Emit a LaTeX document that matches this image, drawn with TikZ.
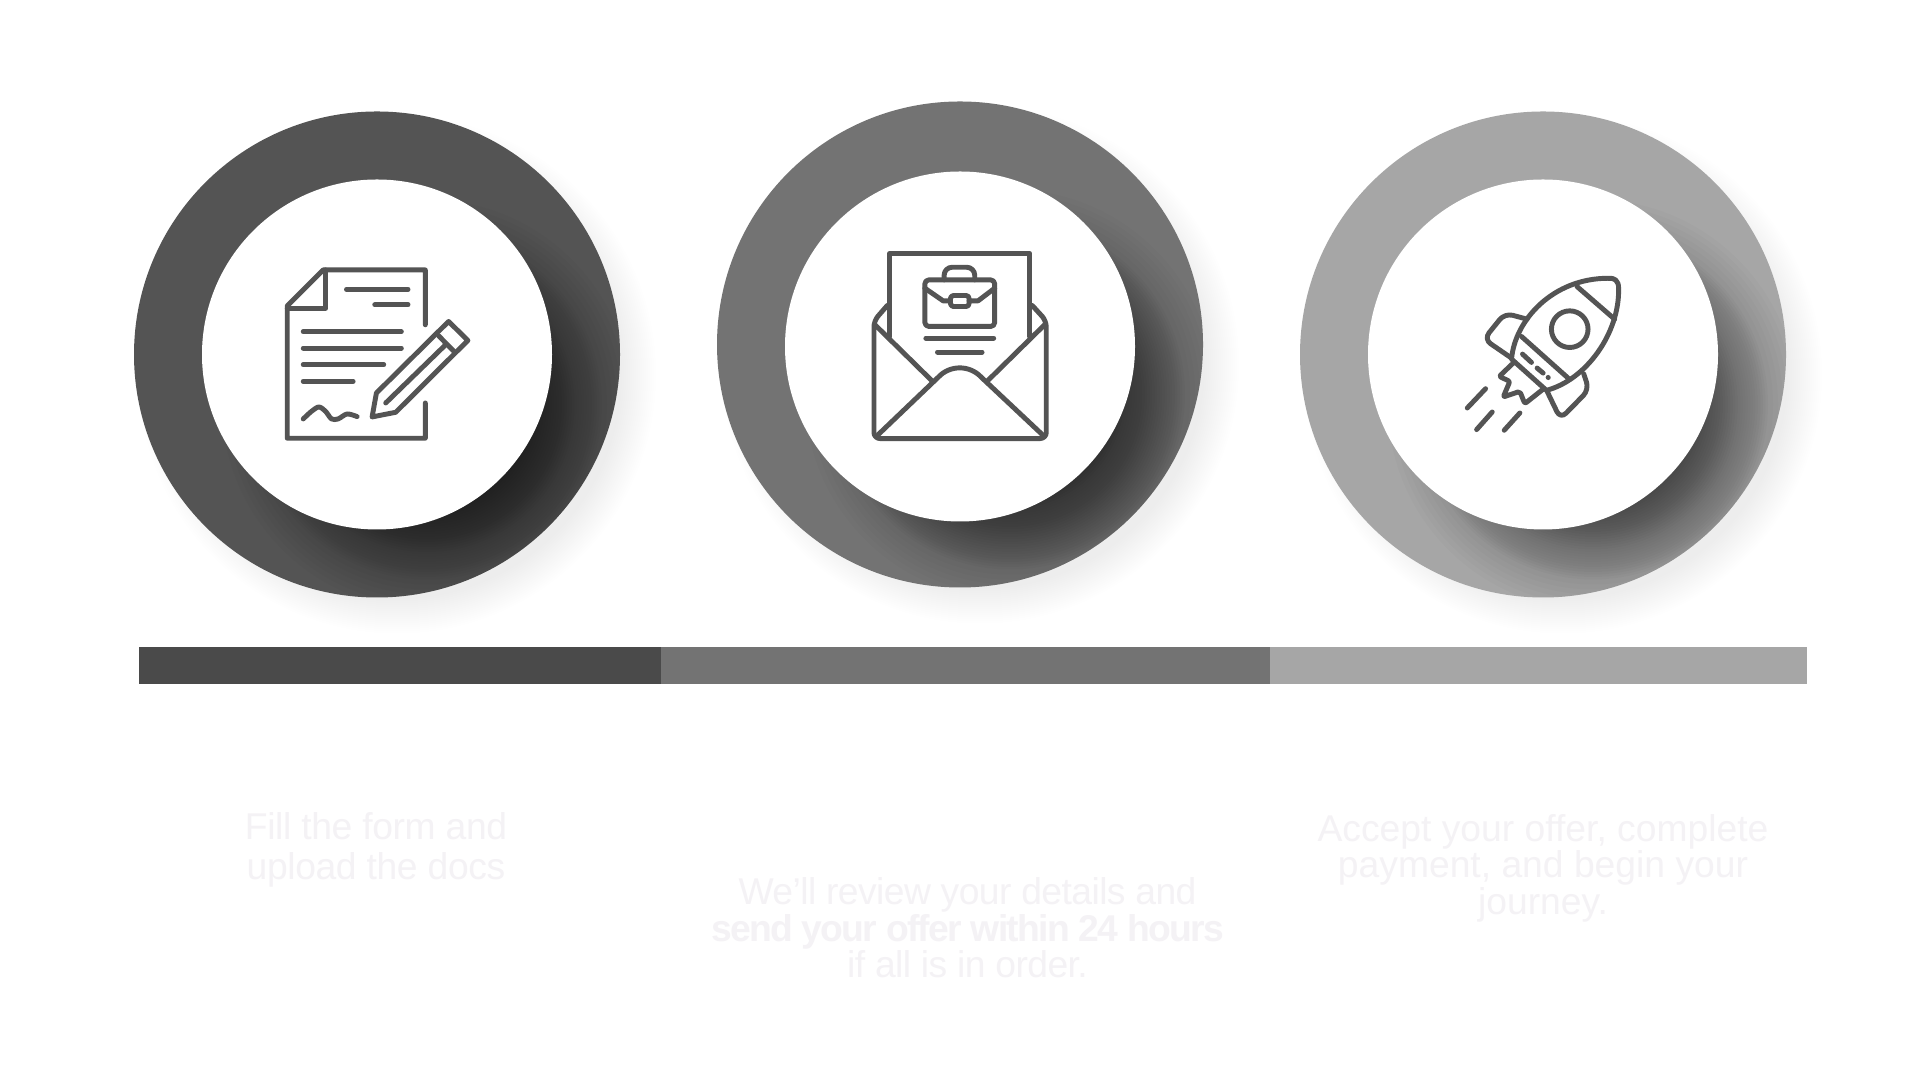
\documentclass[tikz,border=0pt]{standalone}
\usepackage{fontspec}
\setmainfont{Liberation Sans}
\usetikzlibrary{calc}

\tikzset{
    iconline/.style={draw=iconcolor,line width=1.4pt,line cap=round,line join=round},
    zoomgrid/.style={x=0.0033333cm,y=-0.0033333cm},
    captext/.style={text=captioncolor,inner sep=0pt,align=center,font=\fontsize{10.6}{10.35}\selectfont}
}

\begin{document}
\begin{tikzpicture}
    % Colores
    \colorlet{iconcolor}{black!67}
    \definecolor{captioncolor}{HTML}{F4F2F5}

    % Fondo
    \useasboundingbox (0,0) rectangle (19.2,10.8);
    \fill[white] (0,0) rectangle (19.2,10.8);

    % Anillos con sus sombras
    \foreach \cx/\cy/\holey/\ringgray in {3.77/7.255/0/33,9.60/7.355/-0.02/45,15.43/7.255/0/65}
    {
        \begin{scope}[shift={(\cx,\cy)}]
            \foreach \r in {2.25,2.27,...,2.6}
                \fill[black,opacity=0.005] (0.2,-0.2) circle (\r);
            \fill[black!\the\numexpr100-\ringgray\relax] (0,0) circle (2.43);
            \begin{scope}
                \clip (0,0) circle (2.43);
                \foreach \r in {1.05,1.075,...,1.75}
                    \fill[black,opacity=0.021] (0.5,-0.5) circle (\r);
                \foreach \r in {1.8,1.85,...,2.1}
                    \fill[black,opacity=0.016] (0.5,-0.5) circle (\r);
            \end{scope}
            \fill[white] (0,\holey) circle (1.75);
        \end{scope}
    }

    % Barra
    \fill[black!71] (1.39,4.33) rectangle (6.61,3.955);
    \fill[black!55] (6.61,4.33) rectangle (12.70,3.955);
    \fill[black!35] (12.70,4.33) rectangle (18.07,3.955);

    % Documento
    \begin{scope}[shift={(2.6,8.4)},zoomgrid]
        \draw[iconline] (497,255) -- (497,90) -- (190,90) -- (82,198) -- (82,596) -- (497,596) -- (497,490);
        \draw[iconline] (197,90) -- (197,205) -- (82,205);
        \foreach \xa/\xb/\yy in {260/445/148,345/445/195,130/425/276,130/425/325,130/372/375,130/280/425}
            \draw[iconline] (\xa,\yy) -- (\xb,\yy);
        \draw[iconline] plot[smooth] coordinates {(130,538) (155,515) (177,502) (197,515) (215,538) (235,538) (262,523) (292,531)};
        \draw[iconline] (337,532) -- (350,460) -- (567,245) -- (625,302) -- (408,518) -- cycle;
        \draw[iconline] (537,288) -- (585,337);
        \draw[iconline] (378,490) -- (555,318);
    \end{scope}

    % Sobre
    \begin{scope}[shift={(8.5,8.45)},zoomgrid]
        \draw[iconline] (120,305) -- (120,55) -- (540,55) -- (540,305);
        \draw[iconline,rounded corners=0.6mm] (112,212) -- (72,258) -- (72,612) -- (590,612) -- (590,258) -- (548,212);
        \draw[iconline] (75,270) -- (248,440);
        \draw[iconline] (585,270) -- (412,440);
        \draw[iconline] (85,600) -- (265,428) .. controls (300,390) and (360,390) .. (395,428) -- (578,600);
        \draw[iconline,rounded corners=0.4mm] (225,135) rectangle (435,275);
        \draw[iconline,rounded corners=0.8mm] (283,135) -- (283,97) -- (375,97) -- (375,135);
        \draw[iconline] (225,160) -- (280,198) -- (302,198);
        \draw[iconline] (435,160) -- (385,198) -- (358,198);
        \draw[iconline,rounded corners=0.3mm] (302,182) rectangle (358,215);
        \draw[iconline] (228,310) -- (432,310);
        \draw[iconline] (263,352) -- (397,352);
    \end{scope}

    % Cohete
    \begin{scope}[shift={(14.4,8.2)},zoomgrid]
        \draw[iconline] (215,298) .. controls (225,180) and (340,55) .. (505,55) .. controls (525,53) and (537,62) .. (537,85) .. controls (540,220) and (440,360) .. (320,392) -- cycle;
        \draw[iconline] (412,80) -- (525,178);
        \draw[iconline] (245,230) -- (385,355);
        \draw[iconline] (390,208) circle (0.55*0.333cm);
        \draw[iconline,rounded corners=0.8mm] (262,178) -- (195,160) -- (132,238) -- (215,295);
        \draw[iconline,rounded corners=0.8mm] (432,342) -- (448,390) -- (362,478) -- (322,395);
        \draw[iconline,rounded corners=0.2mm] (220,310) -- (178,350) -- (210,365) -- (190,412) -- (240,395) -- (255,432) -- (308,390);
        \draw[iconline] (248,283) -- (275,308);
        \draw[iconline] (292,325) -- (310,340);
        \draw[iconline] (325,353) -- (325.5,353.5);
        \draw[iconline] (82,445) -- (137,387);
        \draw[iconline] (110,510) -- (157,457);
        \draw[iconline] (193,512) -- (240,460);
    \end{scope}

    % Textos
    \node[captext,font=\fontsize{10.6}{11.4}\selectfont\addfontfeatures{LetterSpace=-1}] (formtext) at (3.76,2.30) {Fill the form and\hspace{0.45em}\\upload the docs};
    \node[captext,font=\fontsize{10.6}{10.35}\selectfont\addfontfeatures{LetterSpace=-1.5}] (reviewtext) at (9.675,1.52) {We’ll review your details and\\{\bfseries\addfontfeatures{LetterSpace=-4.5}send your offer within 24 hours}\\if all is in order.};
    \node[captext] (accepttext) at (15.43,2.12) {Accept your offer, complete\\payment, and begin your\\journey.};
\end{tikzpicture}
\end{document}
